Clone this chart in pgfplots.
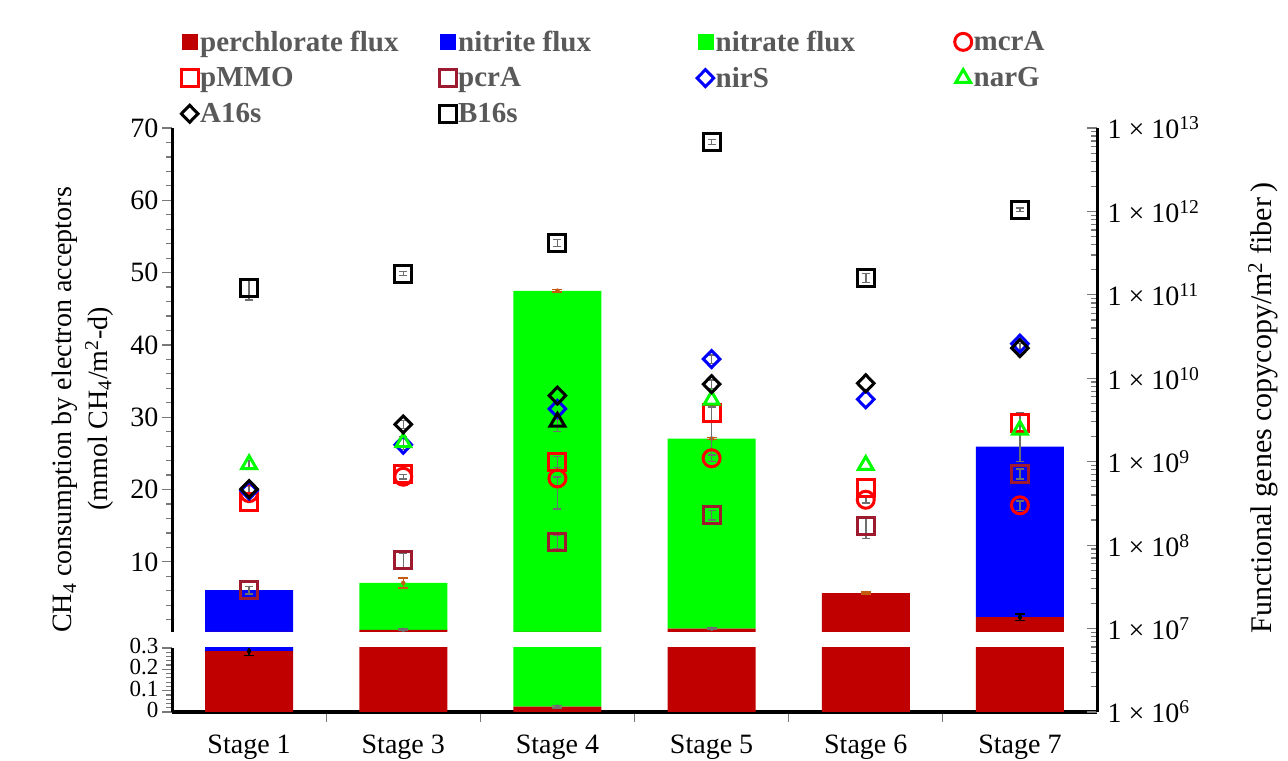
\documentclass[border=0pt]{standalone}
\usepackage{fontspec}
\setmainfont{Liberation Serif}
\usepackage{pgfplots}
\usepackage{pgfplotstable}
\pgfplotsset{compat=1.18}

\definecolor{perchl}{RGB}{192,0,0}
\definecolor{nitriteC}{RGB}{0,0,255}
\definecolor{nitrateC}{RGB}{0,255,0}
\definecolor{pmmoC}{RGB}{255,0,0}
\definecolor{pcrAC}{RGB}{158,26,46}
\definecolor{legtext}{RGB}{89,89,89}
\definecolor{errOrange}{RGB}{197,90,17}
\definecolor{errGray}{RGB}{110,110,110}
\definecolor{tickGray}{RGB}{120,120,120}

% CH4 consumption (mmol CH4/m2-d) per stage, stacked by electron acceptor
\pgfplotstableread{
stage perchlorate nitrite nitrate
0 0.285 5.80  0
1 0.60  0     6.50
2 0.025 0     47.45
3 0.75  0     26.30
4 5.68  0     0
5 2.35  23.60 0
}\fluxes

\pgfplotsset{
  panel/.style={
    scale only axis, width=925bp, xmin=-0.5, xmax=5.5,
    anchor=south west,
    font=\fontsize{28bp}{32bp}\selectfont,
    /pgf/number format/assume math mode=true,
    x axis line style={draw=black, line width=3bp},
    y axis line style={draw=black, line width=3bp},
    every tick/.style={draw=tickGray, line width=1.2bp},
    major tick length=10bp, minor tick length=6bp,
  },
  fluxbars/.style={ybar stacked, bar width=88bp},
  errs/.style={color=#1, only marks, mark=none,
    error bars/y dir=both, error bars/y explicit,
    error bars/error bar style={line width=1.5bp, draw=#1},
    error bars/error mark options={rotate=90, mark size=5bp, line width=1.5bp, draw=#1}},
  gene/.style={only marks, line width=3bp, mark size=8.5bp,
    error bars/y dir=both, error bars/y explicit,
    error bars/error bar style={line width=1.5bp, draw=errGray},
    error bars/error mark options={rotate=90, mark size=4bp, line width=1.5bp, draw=errGray}},
  legmark/.style={legend image code/.code={\draw[##1] plot coordinates {(0bp,0bp)};}},
}

\begin{document}
\begin{tikzpicture}
\path[use as bounding box] (0,0) rectangle (1288bp,761bp);

% lower part of the broken flux axis: 0 to 0.3
\begin{axis}[panel, at={(172bp,49bp)}, height=64bp,
  ymin=0, ymax=0.3, fluxbars,
  axis x line*=bottom, axis y line*=left, tick align=outside,
  xtick={0.5,1.5,2.5,3.5,4.5}, xticklabels={},
  extra x ticks={0,1,2,3,4,5},
  extra x tick labels={Stage 1,Stage 3,Stage 4,Stage 5,Stage 6,Stage 7},
  extra x tick style={major tick length=0pt,
    xticklabel style={anchor=base, yshift=-41bp}},
  ytick={0,0.1,0.2,0.3}, yticklabels={0,0.1,0.2,0.3},
  yticklabel style={font=\fontsize{23bp}{26bp}\selectfont, yshift=2bp},
  minor ytick={0.02,0.04,0.06,0.08,0.12,0.14,0.16,0.18,0.22,0.24,0.26,0.28},
]
\addplot[fill=perchl, draw=none] table[x=stage, y=perchlorate] {\fluxes};
\addplot[fill=nitriteC, draw=none] table[x=stage, y=nitrite] {\fluxes};
\addplot[fill=nitrateC, draw=none] table[x=stage, y=nitrate] {\fluxes};
\end{axis}
\begin{axis}[panel, at={(172bp,49bp)}, height=64bp,
  ymin=0, ymax=0.3, axis lines=none, xtick=\empty, ytick=\empty]
\addplot[errs=black] coordinates {(0,0.285) +- (0,0.02)};
\addplot[errs=errGray] coordinates {(2,0.025) +- (0,0.006)};
\end{axis}

% upper part of the broken flux axis: 0.3 to 70
\begin{axis}[panel, at={(172bp,129bp)}, height=504bp,
  ymin=0.3, ymax=70, fluxbars,
  hide x axis, axis y line*=left, tick align=outside,
  ytick={10,20,...,70}, minor ytick={2,4,...,68},
]
\addplot[fill=perchl, draw=none] table[x=stage, y=perchlorate] {\fluxes};
\addplot[fill=nitriteC, draw=none] table[x=stage, y=nitrite] {\fluxes};
\addplot[fill=nitrateC, draw=none] table[x=stage, y=nitrate] {\fluxes};
\end{axis}
\begin{axis}[panel, at={(172bp,129bp)}, height=504bp,
  ymin=0.3, ymax=70, axis lines=none, xtick=\empty, ytick=\empty]
\addplot[errs=errOrange] coordinates {(1,7.1) +- (0,0.7) (2,47.5) +- (0,0.15)
  (3,27.05) +- (0,0.15) (4,5.68) +- (0,0.12)};
\addplot[errs=errGray] coordinates {(1,0.6) +- (0,0.1) (3,0.75) +- (0,0.12)};
\addplot[errs=black] coordinates {(5,2.35) +- (0,0.45)};
\end{axis}

% functional gene copies on a log scale
\begin{axis}[panel, at={(172bp,49bp)}, height=584bp,
  ymode=log, ymin=1e6, ymax=1e13,
  hide x axis, axis y line*=right, tick align=inside,
  ytick={1e6,1e7,1e8,1e9,1e10,1e11,1e12,1e13},
  yticklabels={1 × 10\textsuperscript{6},1 × 10\textsuperscript{7},
    1 × 10\textsuperscript{8},1 × 10\textsuperscript{9},
    1 × 10\textsuperscript{10},1 × 10\textsuperscript{11},
    1 × 10\textsuperscript{12},1 × 10\textsuperscript{13}},
  yticklabel style={xshift=7bp},
  legend columns=4, legend cell align=left,
  legend style={at={(0.0097,1.170)}, anchor=north west, draw=none, fill=none,
    font=\fontsize{29bp}{32bp}\selectfont\bfseries, text=legtext,
    row sep=10.5bp, inner sep=0pt},
]
\addlegendimage{only marks, mark=square*, mark size=7.5bp, color=perchl, legmark}
\addlegendentry{\makebox[237bp][l]{perchlorate flux}}
\addlegendimage{only marks, mark=square*, mark size=7.5bp, color=nitriteC, legmark}
\addlegendentry{\makebox[237bp][l]{nitrite flux}}
\addlegendimage{only marks, mark=square*, mark size=7.5bp, color=nitrateC, legmark}
\addlegendentry{\makebox[237bp][l]{nitrate flux}}

\addplot[gene, mark=o, color=red, legmark] coordinates {
  (0,4.2e8) (1,6.6e8) +- (0,0.4e8) (2,6.3e8) += (0,0.3e8) -= (0,3.6e8)
  (3,1.1e9) +- (0,0.1e9) (4,3.5e8) +- (0,0.3e8) (5,3.0e8) +- (0,0.4e8)};
\addlegendentry{mcrA}
\addplot[gene, mark=square, color=pmmoC, legmark] coordinates {
  (0,3.3e8) (1,7.2e8) (2,1.0e9) +- (0,0.15e9)
  (3,3.8e9) += (0,0.7e9) -= (0,2.6e9) (4,4.8e8) (5,2.9e9) += (0,1.0e9) -= (0,1.9e9)};
\addlegendentry{pMMO}
\addplot[gene, mark=square, color=pcrAC, legmark] coordinates {
  (0,2.9e7) +- (0,0.3e7) (1,6.6e7) +- (0,1.5e7) (2,1.1e8) +- (0,0.2e8)
  (3,2.3e8) +- (0,0.3e8) (4,1.7e8) +- (0,0.5e8) (5,7.2e8) +- (0,1.0e8)};
\addlegendentry{pcrA}
\addplot[gene, mark=diamond, color=blue, mark options={xscale=1.3}, legmark] coordinates {
  (0,4.5e8) (1,1.6e9) (2,4.3e9) (3,1.7e10) +- (0,0.2e10) (4,5.6e9) (5,2.6e10)};
\addlegendentry{nirS}
\addplot[gene, mark=triangle, color=nitrateC, legmark] coordinates {
  (0,9.3e8) +- (0,1.0e8) (1,1.7e9) +- (0,0.3e9) (3,5.5e9) (4,9.1e8) (5,2.4e9)};
\addlegendentry{narG}
\addplot[gene, mark=triangle, color=black, forget plot] coordinates {
  (2,3.0e9) += (0,0.2e9) -= (0,0.7e9)};
\addplot[gene, mark=diamond, color=black, mark options={xscale=1.3}, legmark] coordinates {
  (0,4.7e8) +- (0,0.6e8) (1,2.8e9) +- (0,0.3e9) (2,6.2e9) (3,8.5e9) +- (0,1e9)
  (4,8.7e9) (5,2.3e10) +- (0,0.3e10)};
\addlegendentry{A16s}
\addplot[gene, mark=square, color=black, legmark] coordinates {
  (0,1.2e11) += (0,0.38e11) -= (0,0.33e11) (1,1.8e11) +- (0,0.1e11)
  (2,4.2e11) +- (0,0.4e11) (3,6.8e12) +- (0,0.5e12) (4,1.6e11) +- (0,0.2e11)
  (5,1.05e12) +- (0,0.05e12)};
\addlegendentry{B16s}
\end{axis}

% solid spines: the broken left axis and the right axis
\draw[line width=3bp, black] (172bp,49bp) -- (172bp,113bp);
\draw[line width=3bp, black] (172bp,129bp) -- (172bp,633bp);
\draw[line width=3bp, black] (1097bp,49bp) -- (1097bp,633bp);

% axis titles
\node[rotate=90, font=\fontsize{28bp}{32bp}\selectfont] at (65bp,351bp)
  {CH\textsubscript{4} consumption by electron acceptors};
\node[rotate=90, font=\fontsize{28bp}{32bp}\selectfont] at (99bp,352bp)
  {(mmol CH\textsubscript{4}/m\textsuperscript{2}-d)};
\node[rotate=90, font=\fontsize{30bp}{34bp}\selectfont] at (1263bp,353bp)
  {Functional genes copycopy/m\textsuperscript{2} fiber\,)};
\end{tikzpicture}
\end{document}
